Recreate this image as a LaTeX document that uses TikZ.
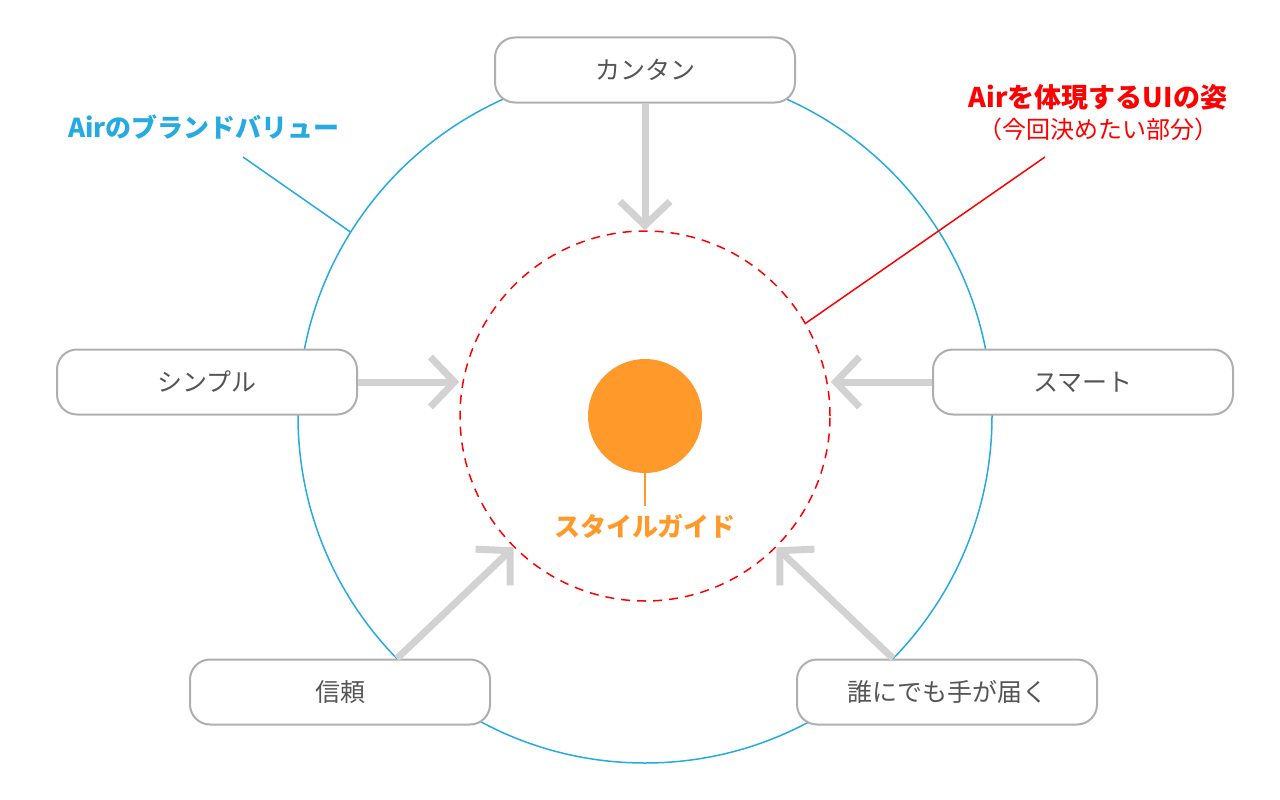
\documentclass[tikz,border=0pt]{standalone}
\usepackage{fontspec}
\setmainfont{Noto Sans CJK JP}
\usetikzlibrary{calc, positioning}
\usetikzlibrary{arrows.meta}

\definecolor{brandblue}{RGB}{38,170,226}
\definecolor{uired}{RGB}{255,0,0}
\definecolor{guideorange}{RGB}{255,154,42}
\definecolor{arrowgray}{RGB}{210,210,210}
\definecolor{boxgray}{RGB}{175,175,175}
\definecolor{textgray}{RGB}{85,85,85}

\tikzset{
  value/.style={draw=boxgray, line width=2pt, fill=white, rounded corners=20pt,
    minimum width=300pt, minimum height=65pt, inner sep=0pt,
    text=textgray, font=\fontsize{25}{30}\selectfont},
  flow/.style={draw=arrowgray, line width=7pt,
    -{Straight Barb[sharp, length=24pt, width=50pt]}},
  tag/.style={font=\fontsize{26}{31}\selectfont\bfseries, inner sep=0pt},
}

\begin{document}
\begin{tikzpicture}[x=1pt, y=-1pt]
\def\brandradius{347}
\def\uiradius{185}
\def\coreradius{57}

\useasboundingbox (0,0) rectangle (1280,800);
\coordinate (C) at (645,416);

% outer and inner rings
\node[circle, draw=brandblue, line width=1.5pt, minimum size={2*\brandradius*1pt},
  inner sep=0pt] (brand) at (C) {};
\node[circle, draw=uired, line width=1.5pt, dash pattern=on 9pt off 7pt,
  minimum size={2*\uiradius*1pt}, inner sep=0pt] (ui) at (C) {};
\node[circle, fill=guideorange, minimum size={2*\coreradius*1pt},
  inner sep=0pt] (core) at (C) {};

% values
\node[value] (kantan) at (645,70) {カンタン};
\node[value] (simple) at (207,382) {シンプル};
\node[value] (smart) at (1083,382) {スマート};
\node[value] (trust) at (340,692) {信頼};
\node[value] (reach) at (947,692) {誰にでも手が届く};

\draw[flow] (kantan) -- (ui.north);
\draw[flow] (simple.east) -- (simple.east -| ui.west);
\draw[flow] (smart.west) -- (smart.west -| ui.east);
\draw[flow] ($(trust.north)+(57,0)$) -- (ui.225);
\draw[flow] ($(reach.north)+(-54,0)$) -- (ui.315);

% labels
\node[tag, text=brandblue] (brandlabel) at (204,127) {Airのブランドバリュー};
\coordinate (brandfoot) at (243,157);
\draw[brandblue, line width=1.5pt] (brandfoot) -- (brand.148);

\node[tag, text=uired, font=\fontsize{27}{32}\selectfont\bfseries] (uititle)
  at (1098,97) {Airを体現するUIの姿};
\node[text=uired, font=\fontsize{24}{28}\selectfont, inner sep=0pt,
  below=8pt of uititle] (uinote) {（今回決めたい部分）};
\coordinate (uifoot) at (1045,157);
\draw[uired, line width=1.5pt] (uifoot) -- (ui.30);

\node[tag, text=guideorange] (guide) at (645,526) {スタイルガイド};
\draw[guideorange, line width=2pt] (core.south) -- ++(0,33);
\end{tikzpicture}
\end{document}
